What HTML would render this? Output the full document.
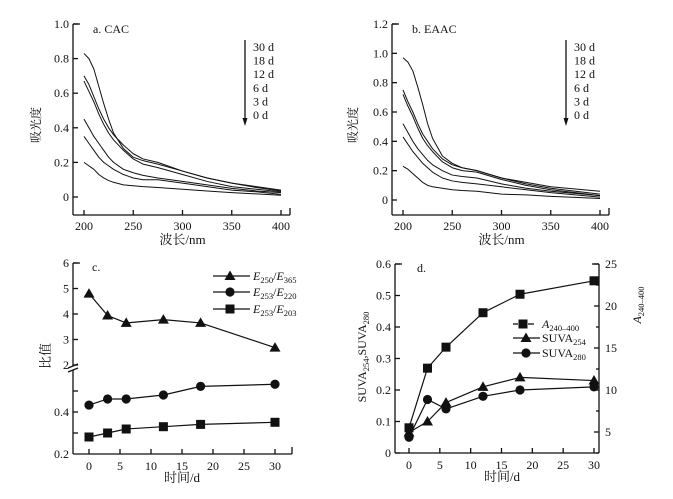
<!DOCTYPE html>
<html><head><meta charset="utf-8"><style>
html,body{margin:0;padding:0;background:#fff}
svg{display:block;font-family:"Liberation Serif","Noto Serif CJK SC","Noto Sans CJK SC",serif}
text{fill:#111}
</style></head><body>
<svg id="fig" width="673" height="499" viewBox="0 0 673 499"></svg>
<script>
// ---------- data ----------
const waves = [200,205,210,215,220,225,230,240,250,260,275,300,325,350,375,400];
const daysLabels = ["30 d","18 d","12 d","6 d","3 d","0 d"];
const cac30 = [0.83,0.80,0.74,0.64,0.54,0.45,0.37,0.28,0.23,0.21,0.19,0.15,0.11,0.08,0.06,0.04];
const cac18 = [0.70,0.65,0.58,0.51,0.45,0.40,0.36,0.30,0.25,0.22,0.20,0.15,0.11,0.08,0.055,0.035];
const cac12 = [0.67,0.61,0.55,0.48,0.42,0.37,0.33,0.27,0.22,0.19,0.17,0.13,0.09,0.06,0.045,0.03];
const cac6  = [0.45,0.40,0.35,0.31,0.27,0.23,0.20,0.16,0.14,0.125,0.11,0.09,0.07,0.05,0.035,0.025];
const cac3  = [0.35,0.31,0.27,0.23,0.20,0.18,0.16,0.13,0.11,0.10,0.10,0.08,0.06,0.04,0.03,0.015];
const cac0  = [0.20,0.18,0.16,0.13,0.11,0.095,0.085,0.07,0.065,0.06,0.055,0.045,0.035,0.025,0.018,0.01];
const eaac30 = [0.97,0.94,0.88,0.77,0.65,0.52,0.42,0.30,0.25,0.22,0.20,0.15,0.12,0.09,0.075,0.06];
const eaac18 = [0.75,0.67,0.60,0.52,0.45,0.40,0.35,0.28,0.24,0.22,0.20,0.15,0.11,0.08,0.06,0.04];
const eaac12 = [0.72,0.64,0.57,0.49,0.42,0.37,0.33,0.26,0.22,0.20,0.19,0.14,0.10,0.07,0.05,0.03];
const eaac6  = [0.52,0.46,0.40,0.35,0.31,0.27,0.24,0.20,0.17,0.16,0.15,0.11,0.08,0.06,0.045,0.03];
const eaac3  = [0.43,0.38,0.33,0.29,0.25,0.22,0.19,0.15,0.13,0.12,0.11,0.09,0.07,0.05,0.035,0.02];
const eaac0  = [0.23,0.21,0.18,0.15,0.12,0.10,0.09,0.08,0.07,0.065,0.06,0.04,0.035,0.025,0.018,0.01];
const days = [0,3,6,12,18,30];
const e250e365 = [4.8,3.94,3.65,3.78,3.65,2.68];
const e253e220 = [0.433,0.462,0.462,0.481,0.522,0.532];
const e253e203 = [0.281,0.30,0.319,0.33,0.341,0.351];
const a240400 = [5.5,12.6,15.1,19.2,21.4,23.0];
const suva254 = [0.065,0.10,0.16,0.21,0.24,0.23];
const suva280 = [0.05,0.17,0.14,0.18,0.20,0.21];
const waveTicks = [200,250,300,350,400];
const absTicksA = ["0","0.2","0.4","0.6","0.8","1.0"];
const absTicksB = ["0","0.2","0.4","0.6","0.8","1.0","1.2"];
const dayTicks = [0,5,10,15,20,25,30];
const upperTicks = [2,3,4,5,6];
const lowerTicks = ["0.2","0.4"];
const suvaTicks = ["0","0.1","0.2","0.3","0.4","0.5","0.6"];
const aTicks = [5,10,15,20,25];

// ---------- helpers ----------
const NS="http://www.w3.org/2000/svg";
const svg=document.getElementById('fig');
const FS=12;
function el(tag,attrs,parent,txt){const e=document.createElementNS(NS,tag);for(const k in attrs)e.setAttribute(k,attrs[k]);if(txt!==undefined)e.textContent=txt;(parent||svg).appendChild(e);return e;}
function lin(d0,d1,p0,p1){return v=>p0+(v-d0)*(p1-p0)/(d1-d0);}
function line(x1,y1,x2,y2,g){return el('line',{x1,y1,x2,y2,stroke:'#111','stroke-width':1.3},g);}
function marker(type,x,y,g){
  let m;
  if(type==='tri') m=el('polygon',{points:`${x},${y-5.5} ${x-5.5},${y+4} ${x+5.5},${y+4}`,fill:'#111'},g);
  else if(type==='cir') m=el('circle',{cx:x,cy:y,r:4.6,fill:'#111'},g);
  else m=el('rect',{x:x-4.5,y:y-4.5,width:9,height:9,fill:'#111'},g);
  
  
  return m;
}
function series(xs,ys,fx,fy,type,g,name,w){
  const s=el('g',{},g);
  
  
  el('polyline',{points:xs.map((x,i)=>fx(x)+','+fy(ys[i])).join(' '),fill:'none',stroke:'#111','stroke-width':w||1.2,'stroke-linejoin':'round'},s);
  if(type) xs.forEach((x,i)=>marker(type,fx(x),fy(ys[i]),s));
}

// ---------- spectra panels ----------
function spectraPanel(cfg){
  const g=el('g',{});
  
  
  const fx=lin(200,400,cfg.x200,cfg.x400), fy=lin(0,cfg.ymax,cfg.y0,cfg.ytop);
  line(cfg.ax,cfg.ytop,cfg.ax,cfg.bot,g); line(cfg.ax,cfg.bot,cfg.right,cfg.bot,g);
  line(cfg.ax,cfg.ytop,cfg.ax+7,cfg.ytop,g);
  cfg.yt.forEach((t,i)=>{const y=fy(i*0.2);line(cfg.ax,y,cfg.ax+5,y,g);const tx=el('text',{x:cfg.ax-4,y:y+4,'font-size':FS,'text-anchor':'end'},g,t);});
  line(cfg.right,cfg.bot,cfg.right,cfg.bot-7,g);
  waveTicks.forEach(w=>{const x=fx(w);line(x,cfg.bot,x,cfg.bot-5,g);const tx=el('text',{x,y:cfg.bot+15,'font-size':FS,'text-anchor':'middle'},g,w);});
  cfg.data.forEach((d,i)=>series(waves,d,fx,fy,null,g,'spectrum-'+daysLabels[i].replace(' ',''),1.0));
  const t=el('text',{x:cfg.ax+20,y:cfg.ytop+9,'font-size':FS},g,cfg.title);
  const yl=el('text',{x:cfg.ylx,y:125,'font-size':12,'text-anchor':'middle',transform:`rotate(-90 ${cfg.ylx} 125)`},g,'吸光度');
  const xl=el('text',{x:(cfg.x200+cfg.x400)/2,y:cfg.bot+29,'font-size':13,'text-anchor':'middle'},g,'波长/nm');
  line(cfg.arx,40,cfg.arx,120,g);
  el('polygon',{points:`${cfg.arx-2.5},118 ${cfg.arx+2.5},118 ${cfg.arx},126`,fill:'#111'},g);
  daysLabels.forEach((d,i)=>{const tx=el('text',{x:cfg.arx+8,y:51+i*13.6,'font-size':FS},g,d);});
}
spectraPanel({name:'panel-a-cac',ax:73,ytop:24,y0:197,ymax:1.0,bot:215,x200:84,x400:281,right:290,yt:absTicksA,title:'a. CAC',ylx:40,arx:245,
  data:[cac30,cac18,cac12,cac6,cac3,cac0]});
spectraPanel({name:'panel-b-eaac',ax:392,ytop:24,y0:200,ymax:1.2,bot:215,x200:403,x400:600,right:609,yt:absTicksB,title:'b. EAAC',ylx:357,arx:566,
  data:[eaac30,eaac18,eaac12,eaac6,eaac3,eaac0]});

// ---------- panel c ----------
(function(){
  const g=el('g',{});
  
  
  const fx=lin(0,30,89,275), fu=lin(2,6,365,263), fl=lin(0.2,0.4,454,412);
  line(73,263,73,366,g); line(73,370,73,454,g); line(73,454,292,454,g);
  line(68,368,78,364,g); line(68,372,78,368,g);
  line(73,263,80,263,g); line(292,454,292,447,g);
  upperTicks.forEach(v=>{const y=fu(v);line(73,y,78,y,g);const tx=el('text',{x:69,y:y+4,'font-size':FS,'text-anchor':'end'},g,v);});
  [0.3,0.4,0.5].forEach(v=>{const y=fl(v);line(73,y,78,y,g);});
  lowerTicks.forEach(v=>{const y=fl(+v);const tx=el('text',{x:69,y:y+4,'font-size':FS,'text-anchor':'end'},g,v);});
  dayTicks.forEach(d=>{const x=fx(d);line(x,454,x,449,g);const tx=el('text',{x,y:470,'font-size':FS,'text-anchor':'middle'},g,d);});
  series(days,e250e365,fx,fu,'tri',g,'series-e250-e365');
  series(days,e253e220,fx,fl,'cir',g,'series-e253-e220');
  series(days,e253e203,fx,fl,'sq',g,'series-e253-e203');
  const t=el('text',{x:92,y:271,'font-size':FS},g,'c.');
  const yl=el('text',{x:50,y:356,'font-size':13,'text-anchor':'middle',transform:'rotate(-90 50 356)'},g,'比值');
  const xl=el('text',{x:182,y:482,'font-size':13,'text-anchor':'middle'},g,'时间/d');
  const leg=[['tri','250','365',276],['cir','253','220',292],['sq','253','203',309]];
  leg.forEach(l=>{const lg=el('g',{},g);
    line(213,l[3],250,l[3],lg);marker(l[0],230,l[3],lg);
    const tx=el('text',{x:253,y:l[3]+4,'font-size':12,'font-style':'italic'},lg);
    tx.innerHTML=`E<tspan font-size="8.5" dy="3" font-style="normal">${l[1]}</tspan><tspan dy="-3" font-style="normal">/</tspan>E<tspan font-size="8.5" dy="3" font-style="normal">${l[2]}</tspan>`;});
})();

// ---------- panel d ----------
(function(){
  const g=el('g',{});
  
  
  const fx=lin(0,30,409,594), fy=lin(0,0.6,453,264), fr=lin(5,25,432,264);
  line(395,264,395,453,g); line(395,453,599,453,g); line(599,264,599,453,g);
  line(395,264,402,264,g); line(599,264,592,264,g);
  suvaTicks.forEach(v=>{const y=fy(+v);line(395,y,400,y,g);const tx=el('text',{x:391,y:y+4,'font-size':FS,'text-anchor':'end'},g,v);});
  aTicks.forEach(v=>{const y=fr(v);line(599,y,594,y,g);line(599,fr(v-2.5),596,fr(v-2.5),g);const tx=el('text',{x:605,y:y+4,'font-size':FS},g,v);});
  dayTicks.forEach(d=>{const x=fx(d);line(x,453,x,448,g);const tx=el('text',{x,y:469,'font-size':FS,'text-anchor':'middle'},g,d);});
  series(days,a240400,fx,fr,'sq',g,'series-a240-400');
  series(days,suva254,fx,fy,'tri',g,'series-suva254');
  series(days,suva280,fx,fy,'cir',g,'series-suva280');
  const t=el('text',{x:417,y:272,'font-size':FS},g,'d.');
  const yl=el('text',{x:366,y:357,'font-size':12,'text-anchor':'middle',transform:'rotate(-90 366 357)'},g);
  yl.innerHTML='SUVA<tspan font-size="8.5" dy="3">254</tspan><tspan dy="-3">,SUVA</tspan><tspan font-size="8.5" dy="3">280</tspan>';
  
  const rl=el('text',{x:641,y:305,'font-size':12,'text-anchor':'middle',transform:'rotate(-90 641 305)'},g);
  rl.innerHTML='<tspan font-style="italic">A</tspan><tspan font-size="8.5" dy="3">240–400</tspan>';
  
  const xl=el('text',{x:502,y:481,'font-size':13,'text-anchor':'middle'},g,'时间/d');
  const leg=[['sq','<tspan font-style="italic">A</tspan><tspan font-size="8.5" dy="3">240–400</tspan>',324,true],['tri','SUVA<tspan font-size="8.5" dy="3">254</tspan>',338,false],['cir','SUVA<tspan font-size="8.5" dy="3">280</tspan>',353,false]];
  leg.forEach(l=>{const lg=el('g',{},g);
    if(l[3]){line(513,l[2],518,l[2],lg);line(528,l[2],534,l[2],lg);marker('sq',523,l[2],lg);}
    else{line(513,l[2],540,l[2],lg);marker(l[0],526,l[2],lg);}
    const tx=el('text',{x:542,y:l[2]+4,'font-size':12},lg);tx.innerHTML=l[1];});
})();
</script>
</body></html>
